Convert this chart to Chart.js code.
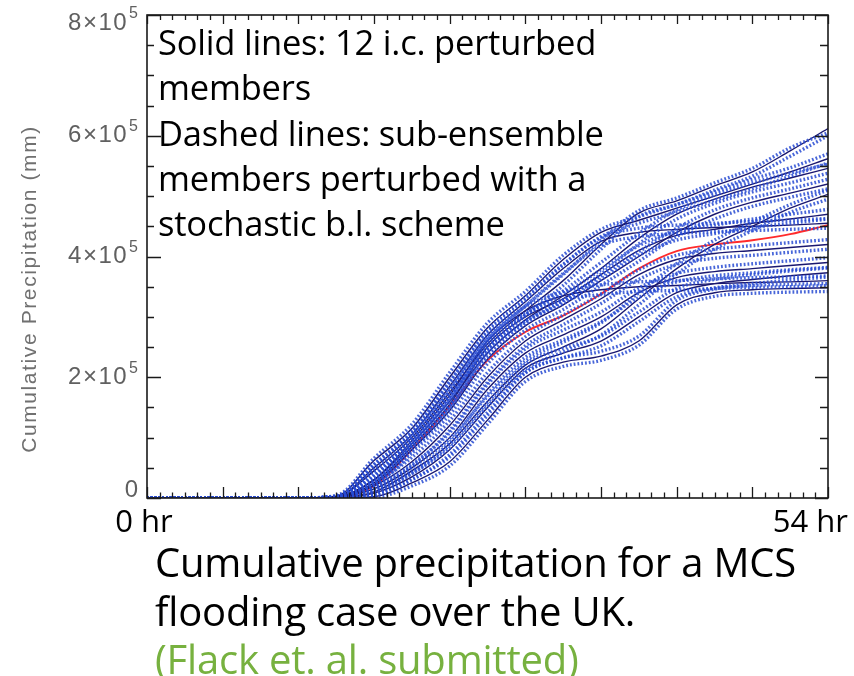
<!DOCTYPE html>
<html>
<head>
<meta charset="utf-8">
<script src="https://cdn.jsdelivr.net/npm/chart.js@4.4.1/dist/chart.umd.min.js"></script>
<style>
  html, body { margin: 0; padding: 0; background: #fff; }
  #wrap { position: relative; width: 854px; height: 676px; overflow: hidden; }
  #c { position: absolute; left: 0; top: 0; }
  .txt { position: absolute; white-space: nowrap; font-family: "Open Sans", "Noto Sans", sans-serif; line-height: 1; color: #000; }
  .ann { font-size: 34.5px; left: 158px; letter-spacing: -0.2px; }
  .cap { font-size: 40px; left: 155px; letter-spacing: -0.2px; }
  .green { color: #77b13f; }
</style>
</head>
<body>
<div id="wrap">
  <canvas id="c" width="854" height="676"></canvas>
  <div class="txt ann" style="top:25px">Solid lines: 12 i.c. perturbed</div>
  <div class="txt ann" style="top:70px">members</div>
  <div class="txt ann" style="top:116px">Dashed lines: sub-ensemble</div>
  <div class="txt ann" style="top:161px">members perturbed with a</div>
  <div class="txt ann" style="top:206px">stochastic b.l. scheme</div>
  <div class="txt cap" style="top:542px">Cumulative precipitation for a MCS</div>
  <div class="txt cap" style="top:591px">flooding case over the UK.</div>
  <div class="txt cap green" style="top:639px">(Flack et. al. submitted)</div>
</div>
<script>
// ---- data (values in units of 1e5 mm) ----
const hours = [0, 12, 15, 18, 21, 24, 27, 30, 33, 36, 39, 42, 45, 48, 51, 54];

// 12 initial-condition perturbed members (solid)
const memA = [0,0,0.03,0.62,1.15,2.00,2.82,3.35,3.95,4.40,4.60,4.80,5.00,5.20,5.40,5.62];
const memB = [0,0,0.02,0.45,1.00,1.75,2.55,3.10,3.60,4.20,4.72,4.92,5.17,5.40,5.75,6.12];
const memC = [0,0,0.02,0.30,0.90,1.60,2.40,2.95,3.35,3.80,4.30,4.70,4.95,5.15,5.30,5.46];
const memD = [0,0,0.01,0.22,0.80,1.45,2.30,2.85,3.20,3.60,4.00,4.40,4.70,4.90,5.05,5.20];
const memE = [0,0,0.01,0.10,0.45,0.90,1.60,2.20,2.50,2.80,3.30,3.80,4.20,4.50,4.80,5.03];
const memF = [0,0,0.02,0.25,0.85,1.55,2.50,3.00,3.30,3.70,4.10,4.35,4.45,4.55,4.62,4.70];
const memG = [0,0,0.02,0.50,1.05,1.85,2.70,3.25,3.80,4.25,4.40,4.45,4.48,4.50,4.52,4.55];
const memH = [0,0,0.01,0.20,0.60,1.20,2.00,2.60,2.95,3.30,3.70,3.95,4.05,4.10,4.15,4.20];
const memI = [0,0,0.01,0.15,0.50,1.00,1.80,2.40,2.70,3.00,3.40,3.65,3.75,3.80,3.85,3.90];
const memJ = [0,0,0.00,0.08,0.35,0.80,1.50,2.15,2.40,2.60,3.00,3.40,3.55,3.62,3.68,3.73];
const memK = [0,0,0.02,0.30,0.95,1.70,2.60,3.10,3.35,3.45,3.50,3.52,3.55,3.57,3.58,3.60];
const memL = [0,0,0.00,0.02,0.25,0.60,1.29,2.00,2.25,2.35,2.60,3.20,3.40,3.45,3.47,3.48];

// sub-ensemble members perturbed with stochastic b.l. scheme (dashed)
const subA1 = [0,0,0.04,0.66,1.22,2.08,2.90,3.42,4.02,4.45,4.66,4.86,5.07,5.28,5.47,5.70];
const subA2 = [0,0,0.02,0.56,1.08,1.92,2.74,3.28,3.86,4.33,4.55,4.74,4.93,5.12,5.33,5.55];
const subB1 = [0,0,0.03,0.50,1.06,1.83,2.63,3.18,3.70,4.27,4.76,4.97,5.22,5.46,5.80,6.05];
const subB2 = [0,0,0.01,0.40,0.94,1.68,2.47,3.03,3.52,4.12,4.66,4.86,5.10,5.33,5.66,6.00];
const subC1 = [0,0,0.03,0.36,0.97,1.68,2.47,3.02,3.43,3.90,4.38,4.77,5.02,5.22,5.38,5.53];
const subC2 = [0,0,0.01,0.26,0.84,1.52,2.32,2.88,3.27,3.71,4.21,4.62,4.88,5.07,5.22,5.38];
const subD1 = [0,0,0.02,0.27,0.86,1.52,2.38,2.92,3.28,3.68,4.08,4.47,4.77,4.97,5.12,5.28];
const subD2 = [0,0,0.01,0.18,0.74,1.38,2.22,2.78,3.12,3.52,3.92,4.33,4.62,4.83,4.98,5.12];
const subE1 = [0,0,0.02,0.14,0.51,0.98,1.68,2.27,2.58,2.90,3.40,3.88,4.27,4.57,4.86,5.10];
const subE2 = [0,0,0.00,0.07,0.40,0.83,1.52,2.13,2.42,2.70,3.20,3.71,4.12,4.43,4.73,4.95];
const subF1 = [0,0,0.03,0.30,0.92,1.63,2.58,3.07,3.38,3.78,4.18,4.42,4.52,4.62,4.70,4.78];
const subF2 = [0,0,0.01,0.21,0.78,1.47,2.42,2.93,3.22,3.62,4.02,4.27,4.38,4.48,4.55,4.62];
const subG1 = [0,0,0.03,0.55,1.12,1.93,2.78,3.32,3.87,4.31,4.47,4.52,4.55,4.58,4.60,4.63];
const subG2 = [0,0,0.01,0.45,0.98,1.77,2.62,3.18,3.72,4.18,4.33,4.38,4.41,4.43,4.45,4.47];
const subH1 = [0,0,0.02,0.25,0.67,1.28,2.08,2.67,3.03,3.38,3.78,4.02,4.12,4.18,4.23,4.28];
const subH2 = [0,0,0.00,0.16,0.53,1.12,1.92,2.52,2.87,3.22,3.62,3.87,3.97,4.02,4.07,4.12];
const subI1 = [0,0,0.02,0.19,0.56,1.08,1.88,2.47,2.78,3.08,3.48,3.72,3.82,3.88,3.93,3.98];
const subI2 = [0,0,0.00,0.11,0.44,0.92,1.72,2.33,2.62,2.92,3.32,3.58,3.68,3.73,3.78,3.82];
const subJ1 = [0,0,0.01,0.12,0.41,0.88,1.58,2.22,2.48,2.68,3.08,3.47,3.62,3.70,3.76,3.81];
const subJ2 = [0,0,0.00,0.05,0.30,0.72,1.42,2.08,2.32,2.52,2.92,3.33,3.48,3.55,3.61,3.66];
const subK1 = [0,0,0.03,0.35,1.02,1.78,2.68,3.17,3.42,3.53,3.58,3.60,3.63,3.65,3.66,3.68];
const subK2 = [0,0,0.01,0.25,0.88,1.62,2.52,3.03,3.28,3.37,3.42,3.44,3.47,3.49,3.50,3.52];
const subL1 = [0,0,0.01,0.05,0.31,0.68,1.37,2.07,2.32,2.43,2.68,3.27,3.46,3.52,3.54,3.55];
const subL2 = [0,0,0.00,0.01,0.20,0.53,1.22,1.93,2.18,2.28,2.53,3.13,3.34,3.39,3.41,3.42];

// ensemble mean (red)
const ensMean = [0,0,0.01,0.20,0.80,1.52,2.28,2.75,3.02,3.38,3.80,4.09,4.20,4.27,4.37,4.52];

// axes
const xRange = [0, 54];
const yRange = [0, 8];
const xMajorStep = 6, xMinorStep = 1;
const yMajorStep = 2, yMinorStep = 0.5;
const xTickLabels = ['0 hr', '54 hr'];
const yTickValues = [0, 2, 4, 6, 8];
const yExponent = '5';
const yTitle = 'Cumulative Precipitation (mm)';

const solidMembers = [memA, memB, memC, memD, memE, memF, memG, memH, memI, memJ, memK, memL];
const dashedMembers = [subA1, subA2, subB1, subB2, subC1, subC2, subD1, subD2, subE1, subE2, subF1, subF2,
                       subG1, subG2, subH1, subH2, subI1, subI2, subJ1, subJ2, subK1, subK2, subL1, subL2];

const toPts = arr => hours.map((h, i) => ({ x: h, y: arr[i] }));
const lineBase = { pointRadius: 0, fill: false, cubicInterpolationMode: 'monotone' };

const datasets = [];
dashedMembers.forEach((arr, i) => datasets.push(Object.assign({}, lineBase, {
  label: 'sub' + i, data: toPts(arr),
  borderColor: 'rgba(40,75,210,0.85)', borderWidth: 3.4, borderDash: [1.8, 2.0]
})));
solidMembers.forEach((arr, i) => datasets.push(Object.assign({}, lineBase, {
  label: 'mem' + i, data: toPts(arr),
  borderColor: '#1a1870', borderWidth: 1.4
})));
datasets.push(Object.assign({}, lineBase, {
  label: 'mean', data: toPts(ensMean), borderColor: '#ff2b2b', borderWidth: 1.9
}));

const idlAxes = {
  id: 'idlAxes',
  afterDatasetsDraw(chart) {
    const { ctx, chartArea: a, scales: { x, y } } = chart;
    ctx.save();
    ctx.strokeStyle = '#1a1a1a';
    ctx.lineWidth = 1.6;
    ctx.strokeRect(a.left, a.top, a.right - a.left, a.bottom - a.top);
    ctx.lineWidth = 1.3;
    ctx.beginPath();
    for (let h = xRange[0]; h <= xRange[1] + 1e-9; h += xMinorStep) {
      const px = Math.round(x.getPixelForValue(h)) + 0.5;
      const major = Math.abs(h % xMajorStep) < 1e-9;
      const lenB = major ? 11 : 5.5, lenT = major ? 9 : 5;
      ctx.moveTo(px, a.bottom); ctx.lineTo(px, a.bottom - lenB);
      ctx.moveTo(px, a.top); ctx.lineTo(px, a.top + lenT);
    }
    for (let v = yRange[0]; v <= yRange[1] + 1e-9; v += yMinorStep) {
      const py = Math.round(y.getPixelForValue(v)) + 0.5;
      const major = Math.abs(v % yMajorStep) < 1e-9;
      const lenL = major ? 14 : 7, lenR = major ? 13 : 8;
      ctx.moveTo(a.left, py); ctx.lineTo(a.left + lenL, py);
      ctx.moveTo(a.right, py); ctx.lineTo(a.right - lenR, py);
    }
    ctx.stroke();

    // y tick labels
    ctx.fillStyle = '#606060';
    ctx.textBaseline = 'middle';
    const baseFont = '24px "Liberation Sans", Arial, sans-serif';
    const supFont = '16px "Liberation Sans", Arial, sans-serif';
    const rightEdge = a.left - 9;
    yTickValues.forEach(v => {
      let py = y.getPixelForValue(v);
      if (v === yRange[0]) py -= 8;
      if (v === yRange[1]) py += 8;
      if ('letterSpacing' in ctx) ctx.letterSpacing = '0px';
      if (v === 0) {
        ctx.font = baseFont; ctx.textAlign = 'right';
        ctx.fillText('0', rightEdge, py);
      } else {
        ctx.font = supFont;
        const sw = ctx.measureText(yExponent).width;
        ctx.textAlign = 'right';
        ctx.fillText(yExponent, rightEdge, py - 9);
        ctx.font = baseFont;
        if ('letterSpacing' in ctx) ctx.letterSpacing = '1.5px';
        ctx.fillText(v + '×10', rightEdge - sw - 1, py);
      }
    });

    // y title
    ctx.save();
    ctx.translate(30, 289);
    ctx.rotate(-Math.PI / 2);
    ctx.font = '21px "Liberation Sans", Arial, sans-serif';
    ctx.fillStyle = '#707070';
    ctx.textAlign = 'center';
    ctx.textBaseline = 'middle';
    if ('letterSpacing' in ctx) ctx.letterSpacing = '1.6px';
    ctx.fillText(yTitle, 0, 0);
    ctx.restore();

    // x tick labels
    if ('letterSpacing' in ctx) ctx.letterSpacing = '0px';
    ctx.font = '31px "Open Sans", "Noto Sans", sans-serif';
    ctx.fillStyle = '#000';
    ctx.textBaseline = 'alphabetic';
    ctx.textAlign = 'center';
    ctx.fillText(xTickLabels[0], x.getPixelForValue(xRange[0]) - 3, 532);
    ctx.textAlign = 'right';
    ctx.fillText(xTickLabels[1], x.getPixelForValue(xRange[1]) + 20, 532);
    ctx.restore();
  }
};

new Chart(document.getElementById('c'), {
  type: 'line',
  data: { datasets },
  options: {
    responsive: false,
    animation: false,
    devicePixelRatio: 1,
    layout: { padding: { left: 147, right: 26, top: 15, bottom: 178 } },
    plugins: { legend: { display: false }, tooltip: { enabled: false } },
    scales: {
      x: { type: 'linear', min: xRange[0], max: xRange[1], display: false },
      y: { type: 'linear', min: yRange[0], max: yRange[1], display: false }
    }
  },
  plugins: [idlAxes]
});
</script>
</body>
</html>
